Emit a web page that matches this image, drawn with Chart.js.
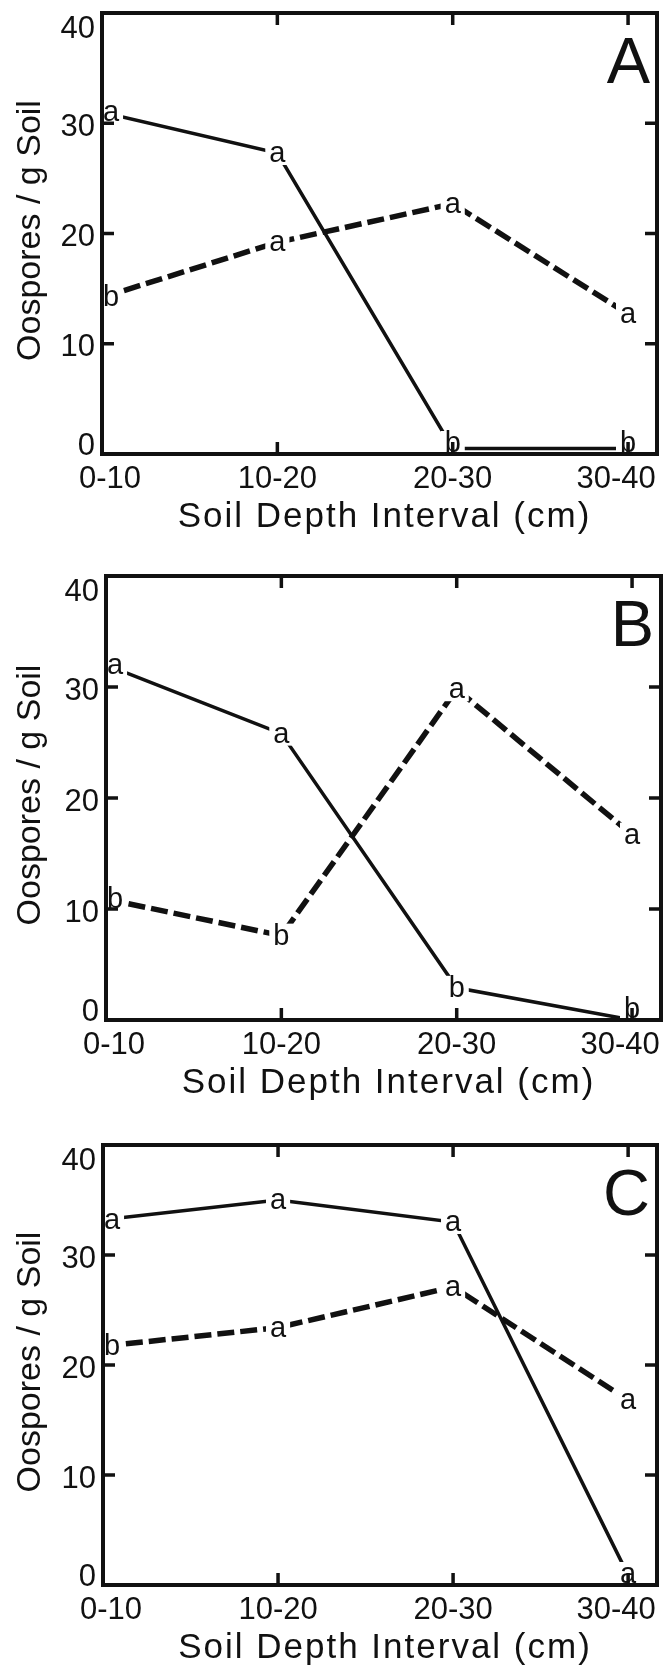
<!DOCTYPE html>
<html><head><meta charset="utf-8">
<script src="https://cdn.jsdelivr.net/npm/chart.js@4.4.1/dist/chart.umd.min.js"></script>
<style>
html,body{margin:0;padding:0;background:#fff;width:664px;height:1666px;overflow:hidden}
canvas{position:absolute;left:0}
</style></head><body>
<canvas id="cA" width="664" height="540" style="top:0px"></canvas>
<canvas id="cB" width="664" height="560" style="top:540px"></canvas>
<canvas id="cC" width="664" height="566" style="top:1100px"></canvas>
<script>
// ---- data ----
const categories = ['0-10', '10-20', '20-30', '30-40'];
const yTicks = [0, 10, 20, 30, 40];
const xTitle = 'Soil Depth Interval (cm)';
const yTitle = 'Oospores / g Soil';

const solidA = [31.0, 27.3, 0.5, 0.5];
const dashedA = [14.2, 19.2, 22.7, 12.7];
const solidLettersA = ['a', 'a', 'b', 'b'];
const dashedLettersA = ['b', 'a', 'a', 'a'];

const solidB = [32.0, 25.8, 2.9, 0.0];
const dashedB = [10.9, 7.6, 29.8, 16.7];
const solidLettersB = ['a', 'a', 'b', 'b'];
const dashedLettersB = ['b', 'b', 'a', 'a'];

const solidC = [33.2, 35.0, 33.0, 0.9];
const dashedC = [21.7, 23.4, 27.1, 16.8];
const solidLettersC = ['a', 'a', 'a', 'a'];
const dashedLettersC = ['b', 'a', 'a', 'a'];

// ---- drawing ----
const INK = '#111';
const FONT = '"Liberation Sans", Arial, sans-serif';

function toPts(vals) { return vals.map((v, i) => ({ x: i, y: v })); }

function makePanel(canvasId, letter, solid, dashed, solidL, dashedL, geom) {
  const decor = {
    id: 'decor',
    afterDatasetsDraw(chart) {
      const ctx = chart.ctx, xs = chart.scales.x, ys = chart.scales.y, a = chart.chartArea;
      ctx.save();
      ctx.font = '29px ' + FONT;
      ctx.textAlign = 'center';
      ctx.textBaseline = 'middle';
      chart.data.datasets.forEach(ds => {
        ds.letters.forEach((L, i) => {
          const px = xs.getPixelForValue(ds.data[i].x);
          const py = ys.getPixelForValue(ds.data[i].y);
          const cx = Math.max(px, a.left + 9);
          const cy = Math.min(py, a.bottom - 11);
          const w = ctx.measureText(L).width;
          ctx.fillStyle = '#fff';
          ctx.fillRect(cx - w / 2 - 4, cy - 12, w + 8, 24);
          ctx.fillStyle = INK;
          ctx.fillText(L, cx, cy + 1);
        });
      });
      ctx.restore();
    },
    afterDraw(chart) {
      const ctx = chart.ctx, xs = chart.scales.x, ys = chart.scales.y, a = chart.chartArea;
      ctx.save();
      ctx.strokeStyle = INK;
      ctx.fillStyle = INK;
      // frame
      ctx.lineWidth = 4;
      ctx.strokeRect(a.left, a.top, a.right - a.left, a.bottom - a.top);
      // inward ticks
      ctx.lineWidth = 3.5;
      const TL = 12;
      ctx.beginPath();
      categories.forEach((c, i) => {
        const px = xs.getPixelForValue(i);
        if (i === 0) return;
        ctx.moveTo(px, a.top); ctx.lineTo(px, a.top + TL);
        ctx.moveTo(px, a.bottom); ctx.lineTo(px, a.bottom - TL);
      });
      yTicks.forEach(v => {
        if (v === 0 || v === 40) return;
        const py = ys.getPixelForValue(v);
        ctx.moveTo(a.left, py); ctx.lineTo(a.left + TL, py);
        ctx.moveTo(a.right, py); ctx.lineTo(a.right - TL, py);
      });
      ctx.stroke();
      // y tick labels
      ctx.font = '31px ' + FONT;
      ctx.textAlign = 'right';
      ctx.textBaseline = 'middle';
      yTicks.forEach(v => {
        const py = ys.getPixelForValue(v);
        const off = v === 40 ? 16 : (v === 0 ? -8 : 4);
        ctx.fillText(String(v), a.left - 7, py + off);
      });
      // x tick labels
      ctx.textAlign = 'center';
      categories.forEach((c, i) => {
        const px = xs.getPixelForValue(i);
        const off = i === 0 ? 8 : (i === categories.length - 1 ? -12 : 0);
        ctx.fillText(c, px + off, a.bottom + 25);
      });
      // x title
      ctx.font = '35px ' + FONT;
      ctx.letterSpacing = '2px';
      ctx.textBaseline = 'alphabetic';
      ctx.fillText(xTitle, (a.left + a.right) / 2 + 5, a.bottom + 73);
      ctx.letterSpacing = '0px';
      // y title
      ctx.save();
      ctx.font = '34px ' + FONT;
      ctx.translate(40, (a.top + a.bottom) / 2 - 3);
      ctx.rotate(-Math.PI / 2);
      ctx.textAlign = 'center';
      ctx.fillText(yTitle, 0, 0);
      ctx.restore();
      // panel letter
      ctx.font = '65px ' + FONT;
      ctx.textAlign = 'right';
      ctx.textBaseline = 'alphabetic';
      ctx.fillText(letter, a.right - 7, a.top + 70);
      ctx.restore();
    }
  };

  const tickBuilder = arr => s => { s.ticks = arr.map(v => ({ value: v })); };

  return new Chart(document.getElementById(canvasId), {
    type: 'line',
    data: {
      datasets: [
        { data: toPts(solid), letters: solidL, borderColor: INK, borderWidth: 3.5,
          pointRadius: 0, tension: 0, fill: false, borderCapStyle: 'butt' },
        { data: toPts(dashed), letters: dashedL, borderColor: INK, borderWidth: 5.5,
          borderDash: [17, 6], pointRadius: 0, tension: 0, fill: false, borderCapStyle: 'butt' }
      ]
    },
    options: {
      responsive: false,
      animation: false,
      devicePixelRatio: 1,
      events: [],
      layout: { padding: { top: geom.top, right: 664 - geom.right, left: 0, bottom: 0 } },
      plugins: { legend: { display: false }, tooltip: { enabled: false } },
      scales: {
        x: {
          type: 'linear', min: 0, max: 3.165,
          afterBuildTicks: tickBuilder(categories.map((c, i) => i)),
          ticks: { display: false }, grid: { display: false }, border: { display: false },
          afterFit: s => { s.height = geom.height - geom.bottom; }
        },
        y: {
          type: 'linear', min: 0, max: 40,
          afterBuildTicks: tickBuilder(yTicks),
          ticks: { display: false }, grid: { display: false }, border: { display: false },
          afterFit: s => { s.width = geom.left; }
        }
      }
    },
    plugins: [decor]
  });
}

makePanel('cA', 'A', solidA, dashedA, solidLettersA, dashedLettersA,
  { left: 102, right: 657, top: 13, bottom: 454, height: 540 });
makePanel('cB', 'B', solidB, dashedB, solidLettersB, dashedLettersB,
  { left: 106, right: 661, top: 36, bottom: 480, height: 560 });
makePanel('cC', 'C', solidC, dashedC, solidLettersC, dashedLettersC,
  { left: 103, right: 657, top: 45, bottom: 485, height: 566 });
</script>
</body></html>
